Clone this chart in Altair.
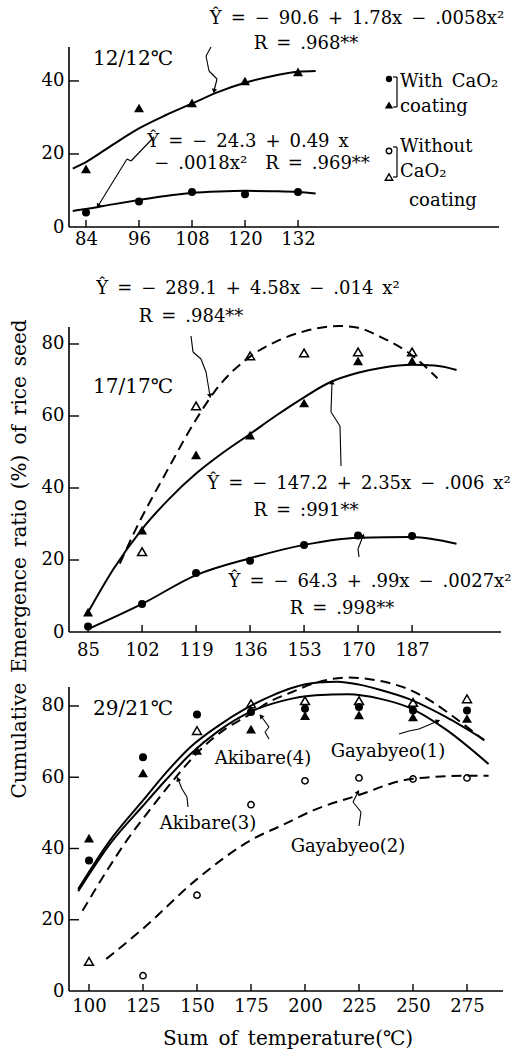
import math
import altair as alt
import pandas as pd

FONT = "DejaVu Serif"
BLACK = "#000000"
SP = "\u2002"  # en space for the wide spacing of the original typesetting

# ---------------- Panel 1 : 12/12 C ----------------
p1_ticks = [84, 96, 108, 120, 132]
p1_yticks = [20, 40]
p1_x = [84, 96, 108, 120, 132]
p1_with_tri = [15.9, 32.6, 34.0, 40.0, 42.5]
p1_with_circ = [4.0, 7.0, 9.6, 9.0, 9.6]
p1_fit_tri_x = [81, 84, 90, 96, 102, 108, 114, 120, 126, 132, 136]
p1_fit_tri_y = [16.0, 17.8, 22.5, 27.0, 30.6, 33.8, 37.0, 39.5, 41.3, 42.5, 42.7]
p1_fit_circ_x = [81, 84, 90, 96, 102, 108, 114, 120, 126, 132, 136]
p1_fit_circ_y = [4.4, 4.9, 6.2, 7.4, 8.5, 9.3, 9.7, 9.9, 9.8, 9.6, 9.2]

# ---------------- Panel 2 : 17/17 C ----------------
p2_ticks = [85, 102, 119, 136, 153, 170, 187]
p2_yticks = [20, 40, 60, 80]
p2_x = [85, 102, 119, 136, 153, 170, 187]
p2_with_circ = [1.5, 7.8, 16.4, 19.8, 24.2, 26.8, 26.7]
p2_with_tri = [5.5, 28.3, 49.2, 54.7, 63.6, 75.3, 75.3]
p2_wo_tri_x = [102, 119, 136, 153, 170, 187]
p2_wo_tri = [22.3, 62.8, 76.7, 77.5, 77.8, 77.8]
p2_fit_dash_x = [95, 100, 110, 119, 125, 136, 145, 153, 164, 170, 177, 186, 195]
p2_fit_dash_y = [19.0, 28.5, 45.0, 59.0, 67.0, 76.5, 81.0, 83.5, 85.0, 84.5, 82.0, 77.5, 70.5]
p2_fit_mid_x = [85, 93, 102, 110, 119, 127, 136, 144, 153, 161, 170, 178, 187, 194, 201]
p2_fit_mid_y = [5.5, 17.5, 28.6, 36.5, 44.0, 49.5, 55.0, 60.0, 65.2, 69.3, 72.0, 73.5, 74.2, 74.0, 72.8]
p2_fit_low_x = [85, 102, 119, 136, 153, 170, 187, 201]
p2_fit_low_y = [0.8, 7.8, 15.8, 20.5, 24.2, 26.2, 26.4, 24.5]

# ---------------- Panel 3 : 29/21 C ----------------
p3_ticks = [100, 125, 150, 175, 200, 225, 250, 275]
p3_yticks = [20, 40, 60, 80]
p3_x = [100, 125, 150, 175, 200, 225, 250, 275]
p3_g1_circ = [36.6, 65.6, 77.6, 78.3, 79.2, 79.7, 78.7, 78.7]
p3_a3_tri = [42.9, 61.2, 67.5, 73.5, 77.3, 77.5, 76.9, 76.5]
p3_a4_x = [100, 150, 175, 200, 225, 250, 275]
p3_a4_tri = [8.3, 73.1, 80.6, 81.5, 81.5, 81.0, 82.0]
p3_g2_x = [125, 150, 175, 200, 225, 250, 275]
p3_g2_circ = [4.3, 26.9, 52.3, 59.0, 59.8, 59.5, 59.8]
p3_fitA_x = [95, 110, 125, 136, 147, 160, 173.5, 185, 193.5, 206, 215, 225, 235, 248, 265, 283]
p3_fitA_y = [28.6, 42.5, 53.5, 61.5, 68.5, 74.5, 79.6, 83.0, 85.0, 86.6, 86.8, 86.0, 84.5, 82.0, 77.0, 70.5]
p3_fitB_x = [95, 110, 125, 136, 147, 160, 173.5, 190, 205, 220, 235, 248, 265, 285]
p3_fitB_y = [28.0, 41.5, 52.0, 59.5, 66.5, 73.0, 78.0, 81.5, 83.0, 83.3, 82.0, 79.6, 73.5, 63.7]
p3_fitC_x = [97, 108, 118, 129, 139.5, 152, 163, 173.5, 183, 193.5, 205, 220, 235, 247.5, 258, 266, 283]
p3_fitC_y = [22.5, 33.5, 42.7, 51.5, 59.5, 68.0, 73.5, 77.3, 81.0, 83.8, 86.5, 88.0, 87.0, 84.8, 81.5, 78.2, 70.3]
p3_fitD_x = [108, 125, 150, 176, 189, 205, 224, 249, 275, 285]
p3_fitD_y = [9.0, 17.5, 31.4, 42.7, 46.4, 51.0, 54.8, 59.5, 60.4, 60.4]


def axes(xvals, yvals, xpad):
    ax = alt.Axis(values=xvals, ticks=False, grid=False, title=None, format="d",
                  labelPadding=xpad, labelFont=FONT, labelFontSize=18, labelColor=BLACK,
                  domain=False)
    ay = alt.Axis(values=yvals, ticks=False, grid=False, title=None, format="d",
                  labelPadding=5, labelFont=FONT, labelFontSize=18, labelColor=BLACK,
                  domain=False)
    return ax, ay


class Panel:
    def __init__(self, xdom, ydom, W, H, xvals, yvals, xpad, ytop=0):
        self.sx = alt.Scale(domain=xdom, nice=False, zero=False)
        self.sy = alt.Scale(domain=ydom, nice=False, zero=False)
        self.ax, self.ay = axes(xvals, [0] + yvals, xpad)
        self.W, self.H = W, H
        self.layers = []
        # axis lines (x along full width, y from bottom to the top of the drawn axis)
        self.seg(0, H, W, H, 1.6)
        self.seg(0, H, 0, ytop, 1.6)

    def X(self, f):
        return alt.X(f, type="quantitative", scale=self.sx, axis=self.ax)

    def Y(self, f):
        return alt.Y(f, type="quantitative", scale=self.sy, axis=self.ay)

    def points(self, xs, ys, shape, filled, size):
        df = pd.DataFrame({"x": xs, "y": ys})
        m = alt.Chart(df).mark_point(shape=shape, filled=filled, size=size, color=BLACK,
                                     strokeWidth=1.5, opacity=1, fillOpacity=1)
        self.layers.append(m.encode(x=self.X("x"), y=self.Y("y")))

    def curve(self, xs, ys, dashed=False, width=2.0):
        df = pd.DataFrame({"x": xs, "y": ys})
        kw = dict(color=BLACK, strokeWidth=width, interpolate="monotone")
        if dashed:
            kw["strokeDash"] = [10, 6]
        self.layers.append(alt.Chart(df).mark_line(**kw).encode(x=self.X("x"), y=self.Y("y")))

    def ticks(self, xvals, yvals):
        dx = pd.DataFrame({"t": xvals})
        self.layers.append(alt.Chart(dx).mark_rule(color=BLACK, strokeWidth=1.4).encode(
            x=self.X("t"), y=alt.value(self.H), y2=alt.value(self.H - 7)))
        dy = pd.DataFrame({"t": yvals})
        self.layers.append(alt.Chart(dy).mark_rule(color=BLACK, strokeWidth=1.4).encode(
            y=self.Y("t"), x=alt.value(0), x2=alt.value(10)))

    def text(self, txt, x, y, size=18, align="center", angle=0):
        self.layers.append(alt.Chart(alt.Data(values=[{}])).mark_text(
            text=txt, font=FONT, fontSize=size, align=align, baseline="middle",
            color=BLACK, angle=angle).encode(x=alt.value(x), y=alt.value(y)))

    def seg(self, x1, y1, x2, y2, width=1.1):
        self.layers.append(alt.Chart(alt.Data(values=[{}])).mark_rule(
            color=BLACK, strokeWidth=width).encode(
            x=alt.value(x1), y=alt.value(y1), x2=alt.value(x2), y2=alt.value(y2)))

    def arrow(self, pts, head=True):
        for (a, b), (c, d) in zip(pts[:-1], pts[1:]):
            self.seg(a, b, c, d)
        if head:
            (a, b), (c, d) = pts[-2], pts[-1]
            ang = math.degrees(math.atan2(c - a, -(d - b))) % 360
            self.layers.append(alt.Chart(alt.Data(values=[{}])).mark_point(
                shape="triangle-up", filled=True, size=28, color=BLACK, opacity=1,
                angle=ang).encode(x=alt.value(c), y=alt.value(d)))

    def marker(self, x, y, shape, filled, size):
        self.layers.append(alt.Chart(alt.Data(values=[{}])).mark_point(
            shape=shape, filled=filled, size=size, color=BLACK, strokeWidth=1.4,
            opacity=1).encode(x=alt.value(x), y=alt.value(y)))

    def chart(self):
        return alt.layer(*self.layers).properties(width=self.W, height=self.H)


# ---------------- build panel 1 ----------------
p1 = Panel([80.15, 177.5], [0, 49.3], 430, 180, p1_ticks, p1_yticks, 3)
p1.curve(p1_fit_tri_x, p1_fit_tri_y)
p1.curve(p1_fit_circ_x, p1_fit_circ_y)
p1.points(p1_x, p1_with_tri, "triangle-up", True, 100)
p1.points(p1_x, p1_with_circ, "circle", True, 64)
p1.ticks(p1_ticks, p1_yticks)
p1.text(f"Ŷ{SP}={SP}−{SP}90.6{SP}+{SP}1.78x{SP}−{SP}.0058x²", 288, -28)
p1.text(f"R{SP}={SP}.968**", 237, -3)
p1.text("12/12℃", 64, 12, size=20)
p1.text(f"Ŷ{SP}={SP}−{SP}24.3{SP}+{SP}0.49{SP}x", 179, 95)
p1.text(f"−{SP}.0018x²{SP}{SP}R{SP}={SP}.969**", 193, 117)
p1.arrow([(142, 0), (137, 9), (140, 24), (148, 32), (145, 44)])
p1.arrow([(85, 90), (62, 114), (58, 112), (29, 159)])
# legend
p1.marker(320, 32, "circle", True, 40)
p1.marker(320, 58, "triangle-up", True, 70)
p1.marker(320, 104, "circle", False, 30)
p1.marker(320, 130, "triangle-up", False, 55)
for (ya, yb) in [(30, 60), (100, 130)]:
    p1.seg(328, ya, 328, yb, 1.2)
    p1.seg(324, ya, 328, ya, 1.2)
    p1.seg(324, yb, 328, yb, 1.2)
p1.text(f"With{SP}CaO₂", 331, 35, align="left")
p1.text("coating", 331, 60, align="left")
p1.text("Without", 331, 100, align="left")
p1.text("CaO₂", 331, 125, align="left")
p1.text("coating", 340, 154, align="left")

# ---------------- build panel 2 ----------------
p2 = Panel([79.0, 215.0], [0, 97.22], 432, 350, p2_ticks, p2_yticks, 9, ytop=45)
p2.curve(p2_fit_dash_x, p2_fit_dash_y, dashed=True)
p2.curve(p2_fit_mid_x, p2_fit_mid_y)
p2.curve(p2_fit_low_x, p2_fit_low_y)
p2.points(p2_wo_tri_x, p2_wo_tri, "triangle-up", False, 80)
p2.points(p2_x, p2_with_tri, "triangle-up", True, 100)
p2.points(p2_x, p2_with_circ, "circle", True, 64)
p2.ticks(p2_ticks, p2_yticks)
p2.text(f"Ŷ{SP}={SP}−{SP}289.1{SP}+{SP}4.58x{SP}−{SP}.014{SP}x²", 179, 7)
p2.text(f"R{SP}={SP}.984**", 122, 35)
p2.text("17/17℃", 64, 105, size=20)
p2.text(f"Ŷ{SP}={SP}−{SP}147.2{SP}+{SP}2.35x{SP}−{SP}.006{SP}x²", 290, 202)
p2.text(f"R{SP}={SP}:991**", 237, 229)
p2.text(f"Ŷ{SP}={SP}−{SP}64.3{SP}+{SP}.99x{SP}−{SP}.0027x²", 301, 300)
p2.text(f"R{SP}={SP}.998**", 273, 327)
p2.arrow([(122, 54), (124, 70), (132, 77), (137, 90), (141, 114)])
p2.arrow([(272, 184), (271, 144), (262, 130), (263, 100)])
p2.arrow([(290, 275), (289, 267), (294, 254)])
p2.text(f"Cumulative{SP}Emergence{SP}ratio{SP}(%){SP}of{SP}rice{SP}seed", -49, 277, size=20, angle=270)

# ---------------- build panel 3 ----------------
p3 = Panel([90.74, 291.67], [0, 85.33], 434, 304, p3_ticks, p3_yticks, 6)
p3.curve(p3_fitA_x, p3_fitA_y)
p3.curve(p3_fitB_x, p3_fitB_y)
p3.curve(p3_fitC_x, p3_fitC_y, dashed=True)
p3.curve(p3_fitD_x, p3_fitD_y, dashed=True)
p3.points(p3_a4_x, p3_a4_tri, "triangle-up", False, 80)
p3.points(p3_g2_x, p3_g2_circ, "circle", False, 40)
p3.points(p3_x, p3_a3_tri, "triangle-up", True, 100)
p3.points(p3_x, p3_g1_circ, "circle", True, 64)
p3.ticks(p3_ticks, p3_yticks)
p3.text("29/21℃", 64, 22, size=20)
p3.text("Akibare(4)", 194, 72)
p3.text("Gayabyeo(1)", 319, 65)
p3.text("Akibare(3)", 139, 137)
p3.text("Gayabyeo(2)", 279, 160)
p3.arrow([(200, 52), (196, 45), (200, 40), (192, 29)])
p3.arrow([(119, 120), (118, 110), (113, 102), (109, 92)])
p3.arrow([(330, 47), (340, 44), (350, 42), (369, 34)])
p3.arrow([(290, 139), (292, 125), (284, 115), (289, 105)])
p3.text(f"Sum{SP}of{SP}temperature(℃)", 219, 352, size=20)

chart = alt.vconcat(p1.chart(), p2.chart(), p3.chart(), spacing=55, bounds="flush").properties(
    padding={"left": 9, "top": 10, "right": 0, "bottom": 0},
    background="white",
).configure_view(stroke=None)

chart.save("out.html", embed_options={"renderer": "svg", "actions": False})
